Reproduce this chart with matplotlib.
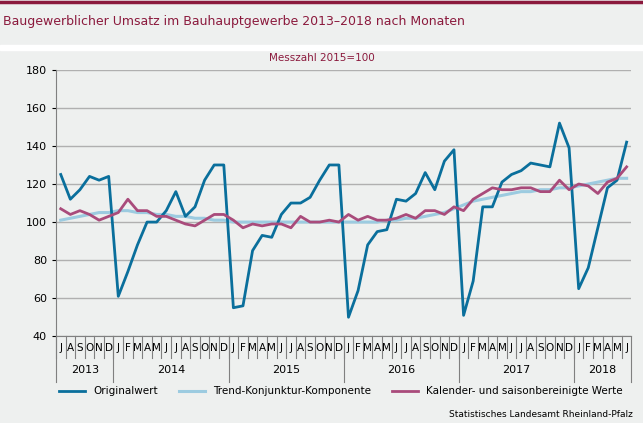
import matplotlib
matplotlib.use("Agg")
import matplotlib.pyplot as plt
import numpy as np

years = ["2013", "2014", "2015", "2016", "2017", "2018"]
month_labels = ["J","A","S","O","N","D"] + ["J","F","M","A","M","J","J","A","S","O","N","D"]*4 + ["J","F","M","A","M","J"]
original = [125,112,117,124,122,124,
            61,74,88,100,100,106,116,103,108,122,130,130,
            55,56,85,93,92,104,110,110,113,122,130,130,
            50,64,88,95,96,112,111,115,126,117,132,138,
            51,69,108,108,121,125,127,131,130,129,152,139,
            65,76,97,118,122,142]
trend = [101,102,103,104,105,105,
         106,106,105,105,104,104,103,103,102,102,101,101,
         100,100,100,100,100,100,100,100,100,100,100,100,
         100,100,100,100,101,101,102,102,103,104,105,107,
         109,111,112,113,114,115,116,116,117,117,118,118,
         119,120,121,122,123,123]
adjusted = [107,104,106,104,101,103,
            105,112,106,106,103,103,101,99,98,101,104,104,
            101,97,99,98,99,99,97,103,100,100,101,100,
            104,101,103,101,101,102,104,102,106,106,104,108,
            106,112,115,118,117,117,118,118,116,116,122,117,
            120,119,115,121,123,129]

bg = "#eef0ef"
x = np.arange(len(original))
fig = plt.figure(figsize=(6.43, 4.23), dpi=100)
fig.patch.set_facecolor(bg)
ax = fig.add_axes([0.087, 0.205, 0.895, 0.63])
ax.set_facecolor(bg)
ax.set_ylim(40, 180)
ax.set_xlim(-0.5, len(x) - 0.5)
ax.set_yticks(range(40, 181, 20))
ax.grid(axis="y", color="#b0b0b0", lw=1)
ax.set_axisbelow(True)
ax.tick_params(axis="y", labelsize=8, length=3)
ax.set_xticks([])
for s in ["top", "right"]:
    ax.spines[s].set_visible(False)
for s in ["left", "bottom"]:
    ax.spines[s].set_color("#808080")

ax.plot(x, trend, color="#9ccbe0", lw=2.2, label="Trend-Konjunktur-Komponente")
ax.plot(x, original, color="#0a6f9c", lw=2, label="Originalwert")
ax.plot(x, adjusted, color="#a94b7b", lw=2, label="Kalender- und saisonbereinigte Werte")

tr = ax.get_xaxis_transform()
for i, m in enumerate(month_labels):
    ax.text(i, -0.045, m, transform=tr, ha="center", va="center", fontsize=7.5)
    ax.plot([i - 0.5, i - 0.5], [0, -0.08], transform=tr, color="#808080", lw=0.8, clip_on=False)
bounds = [0, 6, 18, 30, 42, 54, 60]
for k, yname in enumerate(years):
    ax.plot([bounds[k] - 0.5]*2, [0, -0.17], transform=tr, color="#808080", lw=0.8, clip_on=False)
    ax.text((bounds[k] + bounds[k+1] - 1) / 2, -0.125, yname, transform=tr, ha="center", va="center", fontsize=8)
ax.plot([59.5]*2, [0, -0.17], transform=tr, color="#808080", lw=0.8, clip_on=False)

h, l = ax.get_legend_handles_labels()
order = [1, 0, 2]
fig.legend([h[i] for i in order], [l[i] for i in order], loc="center", bbox_to_anchor=(0.53, 0.075),
           ncol=3, frameon=False, fontsize=7.5, handlelength=2.5, columnspacing=2)

fig.patches.append(plt.Rectangle((0, 0.882), 1, 0.012, transform=fig.transFigure, color="white", zorder=0))
fig.text(0.005, 0.948, "Baugewerblicher Umsatz im Bauhauptgewerbe 2013–2018 nach Monaten",
         color="#8b1a3d", fontsize=9, va="center", family=["Liberation Sans Narrow", "DejaVu Sans"])
fig.add_artist(plt.Line2D([0, 1], [0.996, 0.996], color="#8b1a3d", lw=2.5))
fig.text(0.5, 0.862, "Messzahl 2015=100", color="#8b1a3d", fontsize=7.5, ha="center", va="center")
fig.text(0.985, 0.02, "Statistisches Landesamt Rheinland-Pfalz", fontsize=6.5, ha="right", va="center")
fig.savefig("out.png", dpi=100, facecolor=bg)
